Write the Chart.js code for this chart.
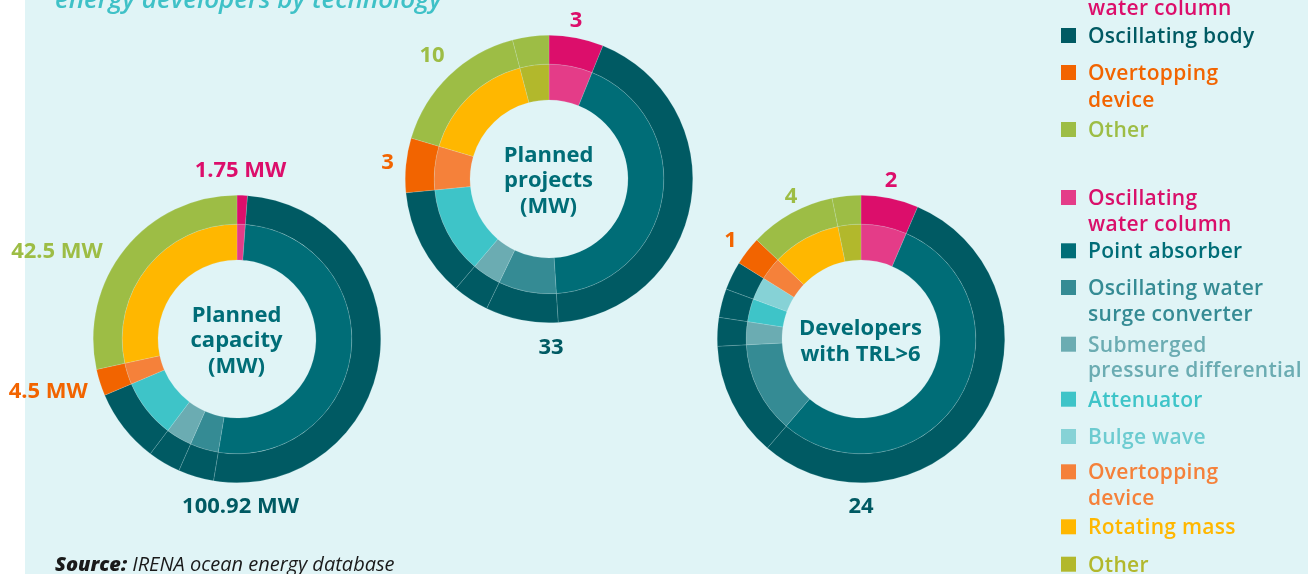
<!DOCTYPE html>
<html>
<head>
<meta charset="utf-8">
<title>Ocean energy: planned capacity, projects and developers by technology</title>
<script src="https://cdn.jsdelivr.net/npm/chart.js@4.4.1/dist/chart.umd.min.js"></script>
<style>
  html, body { margin: 0; padding: 0; background: #ffffff; }
  #page { position: relative; width: 1308px; height: 574px; overflow: hidden; background: #ffffff; }
  #panel { position: absolute; left: 25px; top: 0; width: 1283px; height: 574px; background: #e0f4f6; }
  #page canvas { position: absolute; }
  #texts { position: absolute; left: 0; top: 0; pointer-events: none; }
  #texts text { font-family: 'Open Sans', 'Noto Sans', sans-serif; }
</style>
</head>
<body>
<div id="page">
  <div id="panel"></div>
  <canvas id="chartCapacity" width="288" height="288"></canvas>
  <canvas id="chartProjects" width="288" height="288"></canvas>
  <canvas id="chartDevelopers" width="288" height="288"></canvas>
  <svg id="texts" width="1308" height="574" xmlns="http://www.w3.org/2000/svg"></svg>
</div>
<script>
// ---- Data -------------------------------------------------------------
// Main technology groups (outer ring)
const mainTypes = ['Oscillating water column', 'Oscillating body', 'Overtopping device', 'Other'];

// Technology sub-types (inner ring), in drawing order
const subTypes = [
  'Oscillating water column',
  'Point absorber',
  'Oscillating water surge converter',
  'Submerged pressure differential',
  'Attenuator',
  'Bulge wave',
  'Overtopping device',
  'Rotating mass',
  'Other'
];

// Index of the main group each sub-type belongs to
const subGroup = [0, 1, 1, 1, 1, 1, 2, 3, 3];

// Values per sub-type
const capacityMW      = [1.75, 77.0, 6.0, 5.5, 12.42, 0, 4.5, 42.5, 0];
const plannedProjects = [3, 21, 4, 2, 6, 0, 3, 8, 2];
const developersTRL6  = [2, 17, 4, 1, 1, 1, 1, 3, 1];

// ---- Styling --------------------------------------------------------
const mainColors = ['#dc0e6b', '#005a63', '#f26400', '#9dbd45'];
const subColors  = ['#e43c88', '#006d77', '#358b94', '#6bacb2', '#3ec4c8', '#86d2d6', '#f5813a', '#ffb700', '#b2b82c'];

const legendMain = [
  { lines: ['Oscillating', 'water column'], box: '#dc0e6b', text: '#dc0e6b', base: -12 },
  { lines: ['Oscillating body'],            box: '#005a63', text: '#005a63', base: 43 },
  { lines: ['Overtopping', 'device'],       box: '#f26400', text: '#f26400', base: 80 },
  { lines: ['Other'],                       box: '#9dbd45', text: '#9dbd45', base: 137 }
];
const legendSub = [
  { lines: ['Oscillating', 'water column'],           box: '#e43c88', text: '#d90f6a', base: 205 },
  { lines: ['Point absorber'],                        box: '#006d77', text: '#006d77', base: 258.3 },
  { lines: ['Oscillating water', 'surge converter'],  box: '#358b94', text: '#358b94', base: 295 },
  { lines: ['Submerged', 'pressure differential'],    box: '#6bacb2', text: '#6bacb2', base: 351.7 },
  { lines: ['Attenuator'],                            box: '#3ec4c8', text: '#3ec4c8', base: 406.7 },
  { lines: ['Bulge wave'],                            box: '#86d2d6', text: '#6ccbd0', base: 444 },
  { lines: ['Overtopping', 'device'],                 box: '#f5813a', text: '#f5813a', base: 479.3 },
  { lines: ['Rotating mass'],                         box: '#ffb700', text: '#ffb700', base: 534.3 },
  { lines: ['Other'],                                 box: '#b2b82c', text: '#b2b82c', base: 571.7 }
];

// Chart placement and label anchors (x, baseline, text-anchor) per main group
const charts = [
  {
    id: 'chartCapacity', values: capacityMW, unit: ' MW',
    cx: 236.5, cy: 339,
    centre: ['Planned', 'capacity', '(MW)'], centreBase: 321.7,
    labels: [[240.5, 176.7, 'middle'], [240.5, 513, 'middle'], [48.3, 397.7, 'middle'], [57, 258.3, 'middle']]
  },
  {
    id: 'chartProjects', values: plannedProjects, unit: '',
    cx: 548.5, cy: 178.5,
    centre: ['Planned', 'projects', '(MW)'], centreBase: 161.7,
    labels: [[576, 26.7, 'middle'], [551, 354, 'middle'], [387.5, 169.3, 'middle'], [432, 61.7, 'middle']]
  },
  {
    id: 'chartDevelopers', values: developersTRL6, unit: '',
    cx: 860.5, cy: 339,
    centre: ['Developers', 'with TRL>6'], centreBase: 335,
    labels: [[891, 186.7, 'middle'], [861, 513.3, 'middle'], [730.5, 247.3, 'middle'], [791, 202.7, 'middle']]
  }
];

const SIZE = 288;
const OUTER_WEIGHT = 29;
const INNER_WEIGHT = 36;
const HOLE = 79;
const seam = 'rgba(215,242,245,0.32)';

// ---- SVG text helpers ------------------------------------------------
const svg = document.getElementById('texts');
const NS = 'http://www.w3.org/2000/svg';
function addText(str, x, y, opts) {
  const t = document.createElementNS(NS, 'text');
  t.setAttribute('x', x);
  t.setAttribute('y', y);
  t.setAttribute('text-anchor', opts.anchor || 'start');
  t.setAttribute('fill', opts.fill || '#000');
  t.setAttribute('font-size', opts.size || 20);
  t.setAttribute('font-weight', opts.weight || 400);
  if (opts.italic) t.setAttribute('font-style', 'italic');
  if (opts.spacing) t.setAttribute('letter-spacing', opts.spacing);
  t.textContent = str;
  svg.appendChild(t);
  return t;
}
function addRect(x, y, w, h, fill) {
  const r = document.createElementNS(NS, 'rect');
  r.setAttribute('x', x); r.setAttribute('y', y);
  r.setAttribute('width', w); r.setAttribute('height', h);
  r.setAttribute('fill', fill);
  svg.appendChild(r);
}
const fmt = v => String(Math.round(v * 100) / 100);

// ---- Doughnuts ------------------------------------------------------
charts.forEach(cfg => {
  const canvas = document.getElementById(cfg.id);
  canvas.style.left = (cfg.cx - SIZE / 2) + 'px';
  canvas.style.top = (cfg.cy - SIZE / 2) + 'px';

  const seamWidth = ctx => (ctx.raw > 0 ? 0.5 : 0);

  new Chart(canvas, {
    type: 'doughnut',
    data: {
      labels: subTypes,
      datasets: [
        {
          label: 'Technology group',
          data: cfg.values,
          backgroundColor: cfg.values.map((_, i) => mainColors[subGroup[i]]),
          borderColor: seam,
          borderWidth: seamWidth,
          weight: OUTER_WEIGHT
        },
        {
          label: 'Technology type',
          data: cfg.values,
          backgroundColor: subColors,
          borderColor: seam,
          borderWidth: seamWidth,
          weight: INNER_WEIGHT
        }
      ]
    },
    options: {
      responsive: false,
      animation: false,
      events: [],
      cutout: HOLE,
      layout: { padding: 0 },
      plugins: { legend: { display: false }, tooltip: { enabled: false } }
    }
  });

  // centre caption
  cfg.centre.forEach((line, k) => {
    addText(line, cfg.cx, cfg.centreBase + k * 25.5, { anchor: 'middle', fill: '#006d77', size: 22, weight: 700 });
  });

  // group totals
  mainTypes.forEach((_, g) => {
    const total = cfg.values.reduce((s, v, i) => (subGroup[i] === g ? s + v : s), 0);
    const [x, y, anchor] = cfg.labels[g];
    addText(fmt(total) + cfg.unit, x, y, { anchor, fill: mainColors[g], size: 22, weight: 700 });
  });
});

// ---- Legends --------------------------------------------------------
function drawLegend(items, lineGap) {
  items.forEach(it => {
    addRect(1061, it.base - 15, 15, 15, it.box);
    it.lines.forEach((line, k) => {
      addText(line, 1088, it.base + k * lineGap, { fill: it.text, size: 21, weight: 600, spacing: 0.3 });
    });
  });
}
drawLegend(legendMain, 27);
drawLegend(legendSub, 25.5);

// ---- Heading and source --------------------------------------------
addText('energy developers by technology', 55, 8, { fill: '#3fc1c7', size: 26, weight: 600, italic: true });

const src = document.createElementNS(NS, 'text');
src.setAttribute('x', 55); src.setAttribute('y', 571);
src.setAttribute('font-size', 20); src.setAttribute('fill', '#1a1a1a'); src.setAttribute('font-style', 'italic');
const s1 = document.createElementNS(NS, 'tspan'); s1.setAttribute('font-weight', 800); s1.textContent = 'Source:';
const s2 = document.createElementNS(NS, 'tspan'); s2.setAttribute('font-weight', 400); s2.textContent = ' IRENA ocean energy database';
src.appendChild(s1); src.appendChild(s2);
svg.appendChild(src);
</script>
</body>
</html>
